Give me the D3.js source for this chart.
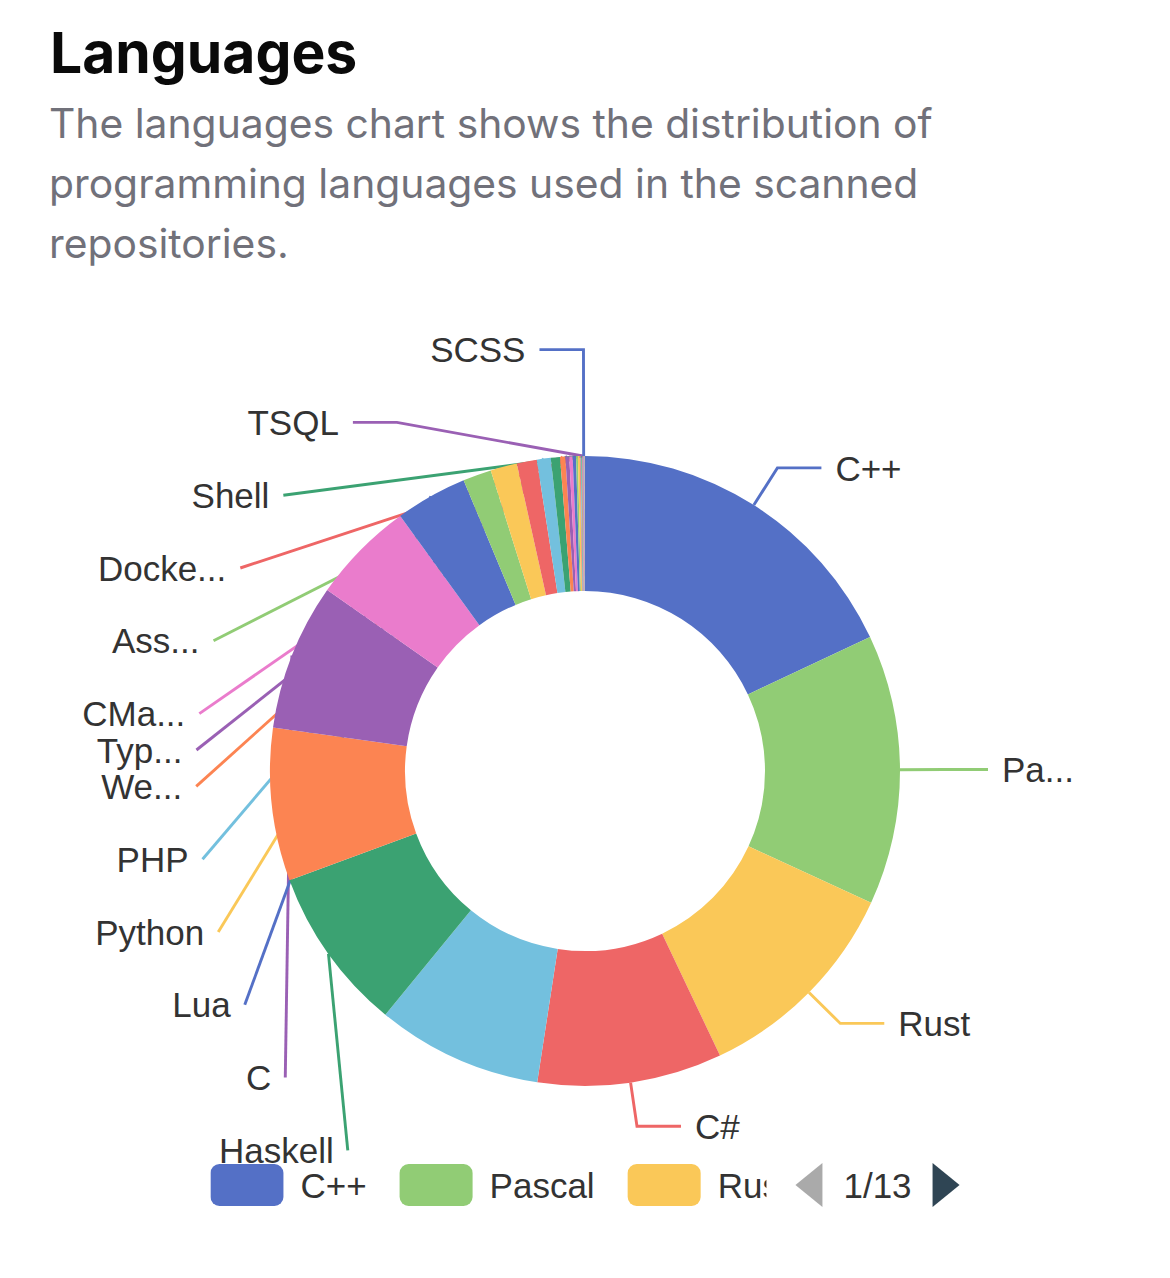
<!DOCTYPE html>
<html>
<head>
<meta charset="utf-8">
<script src="https://cdn.jsdelivr.net/npm/d3@7"></script>
<style>
  html, body { margin: 0; padding: 0; background: #ffffff; }
  svg { display: block; }
</style>
</head>
<body>
<svg id="chart" width="1170" height="1278"></svg>
<script>
// ---------------- DATA ----------------
const titleText = "Languages";
const subtitleLines = [
  "The languages chart shows the distribution of",
  "programming languages used in the scanned",
  "repositories."
];
const names = [
  "C++", "Pascal", "Rust", "C#", "Go", "Haskell", "JavaScript", "C", "Java", "Lua",
  "Ruby", "Python", "Kotlin", "PHP", "HTML", "WebAssembly", "TypeScript", "CMake", "CSS", "Assembly",
  "Makefile", "Dockerfile", "Perl", "Shell", "Batchfile", "TSQL", "Vue", "SCSS", "PowerShell", "Objective-C",
  "Scala", "Swift", "Dart", "Elixir", "Erlang", "Clojure", "F#", "Julia"
];
// share of code, in percent
const values = [
  18.00, 13.86, 11.08, 9.47, 8.50, 8.44, 7.83, 7.54, 5.28, 3.68,
  1.46, 1.36, 1.03, 0.71, 0.47, 0.27, 0.20, 0.17, 0.17, 0.094,
  0.097, 0.042, 0.036, 0.033, 0.028, 0.025, 0.022, 0.019, 0.011, 0.0097,
  0.0083, 0.0069, 0.0056, 0.005, 0.0042, 0.0033, 0.0028, 0.0014
];
// label shown next to each slice: text, "" = hidden by overlap (still laid out), null = no label
const labelTexts = [
  "C++", "Pa...", "Rust", "C#", "", "Haskell", "", "C", "", "Lua",
  "", "Python", "", "PHP", "", "We...", "Typ...", "CMa...", "", "Ass...",
  "", "Docke...", "", "Shell", "", "TSQL", "", "SCSS", null, null,
  null, null, null, null, null, null, null, null
];
const palette = ["#5470c6", "#91cc75", "#fac858", "#ee6666", "#73c0de", "#3ba272", "#fc8452", "#9a60b4", "#ea7ccc"];
const legendPageText = "1/13";

// ---------------- LAYOUT ----------------
const svg = d3.select("#chart");
const uiFont = "Inter, 'Noto Sans', sans-serif";
const chartFont = "'Liberation Sans', Arial, Helvetica, sans-serif";

svg.append("text")
  .attr("x", 50).attr("y", 73)
  .attr("font-family", uiFont).attr("font-weight", 700).attr("font-size", 57)
  .attr("fill", "#0a0a0a")
  .text(titleText);

svg.selectAll("text.sub").data(subtitleLines).enter().append("text")
  .attr("class", "sub")
  .attr("x", 49).attr("y", (d, i) => 138 + i * 60)
  .attr("font-family", uiFont).attr("font-size", 40.8)
  .attr("fill", "#71717a")
  .text(d => d);

const cx = 585, cy = 771, R = 315, R0 = 180;
const len1 = 44, len2 = 44, labelDist = 14, labelH = 36.4, fontSize = 35;
const viewTop = 300, viewBottom = 1205;

const color = d3.scaleOrdinal().domain(d3.range(names.length)).range(palette);
const arcs = d3.pie().sort(null).value(d => d)(values);
const arcGen = d3.arc().innerRadius(R0).outerRadius(R);

// ---- label layout (outer labels with guide lines) ----
const labels = [];
arcs.forEach((a, i) => {
  const text = labelTexts[i];
  if (text === null) return;
  const mid = (a.startAngle + a.endAngle) / 2;
  const sx = Math.sin(mid), sy = -Math.cos(mid);
  const dir = sx < 0 ? -1 : 1;
  const p0 = [cx + R * sx, cy + R * sy];
  const p1 = [cx + (R + len1) * sx, cy + (R + len1) * sy];
  const p2 = [p1[0] + dir * len2, p1[1]];
  labels.push({ i, text, dir, normal: [sx, sy], pts: [p0, p1, p2], x: p2[0] + dir * labelDist, y: p1[1] });
});

function shiftY(list) {
  if (list.length < 2) return false;
  list.sort((a, b) => a.y - b.y);
  let moved = false, last = -Infinity;
  list.forEach(d => {
    const top = d.y - labelH / 2;
    if (top < last) { d.y += last - top; moved = true; }
    last = d.y + labelH / 2;
  });
  const first = list[0], lastItem = list[list.length - 1];
  const over = lastItem.y + labelH / 2 - viewBottom;
  if (over > 0) {
    const room = Math.max(first.y - labelH / 2 - viewTop, 0);
    const s = Math.min(over, room);
    list.forEach(d => d.y -= s);
    moved = true;
  }
  return moved;
}

function recalcX(list) {
  const rA = R + len1;
  [list.filter(d => d.y <= cy), list.filter(d => d.y > cy)].forEach(semi => {
    if (!semi.length) return;
    let maxY = -1, rB = rA;
    semi.forEach(d => {
      const dy = Math.abs(d.y - cy);
      if (dy >= maxY) {
        const dx = d.x - cx - len2 * d.dir;
        rB = Math.abs(dx) < rA ? Math.sqrt(dy * dy / (1 - dx * dx / rA / rA)) : rA;
        maxY = dy;
      }
    });
    semi.forEach(d => {
      const dy = Math.abs(d.y - cy);
      const dxE = Math.sqrt(Math.max(0, 1 - dy * dy / (rB * rB))) * rA;
      d.x = cx + (dxE + len2) * d.dir;
    });
  });
}

[labels.filter(d => d.dir < 0), labels.filter(d => d.dir > 0)].forEach(side => {
  if (shiftY(side)) recalcX(side);
});

const sub = (a, b) => [a[0] - b[0], a[1] - b[1]];
const dot = (a, b) => a[0] * b[0] + a[1] * b[1];
const norm = a => { const l = Math.hypot(a[0], a[1]); return [a[0] / l, a[1] / l]; };
function project(p1, p2, p) {
  const d = sub(p2, p1), L2 = dot(d, d);
  const t = dot(sub(p, p1), d) / L2;
  const q = [p1[0] + t * d[0], p1[1] + t * d[1]];
  return [q, Math.hypot(p[0] - q[0], p[1] - q[1])];
}
function paramT(p1, p2, q) {
  return p2[0] !== p1[0] ? (q[0] - p1[0]) / (p2[0] - p1[0]) : (q[1] - p1[1]) / (p2[1] - p1[1]);
}
function limitTurnAngle(pts, minTurn) {
  const [p0, p1, p2] = pts;
  const v1 = sub(p0, p1), v2 = sub(p2, p1);
  if (Math.hypot(...v1) < 1e-3 || Math.hypot(...v2) < 1e-3) return;
  const d1 = norm(v1), d2 = norm(v2);
  if (Math.cos(minTurn) < dot(d1, d2)) {
    const [q, dist] = project(p1, p2, p0);
    let np = [q[0] + d2[0] * dist / Math.tan(Math.PI - minTurn), q[1] + d2[1] * dist / Math.tan(Math.PI - minTurn)];
    const t = paramT(p1, p2, np);
    if (isNaN(t)) return;
    if (t < 0) np = p1.slice(); else if (t > 1) np = p2.slice();
    pts[1] = np;
  }
}
function limitSurfaceAngle(pts, normal, maxSurface) {
  const [p0, p1, p2] = pts;
  const v1 = sub(p1, p0), v2 = sub(p2, p1);
  if (Math.hypot(...v1) < 1e-3 || Math.hypot(...v2) < 1e-3) return;
  const d1 = norm(v1), d2 = norm(v2);
  if (dot(d1, normal) < Math.cos(maxSurface)) {
    const [q, dist] = project(p1, p2, p0);
    const angle2 = Math.acos(Math.max(-1, Math.min(1, dot(d2, normal))));
    const newAngle = Math.PI / 2 + angle2 - maxSurface;
    let np;
    if (newAngle >= Math.PI / 2) np = p2.slice();
    else {
      const k = dist / Math.tan(Math.PI / 2 - newAngle);
      np = [q[0] + d2[0] * k, q[1] + d2[1] * k];
      const t = paramT(p1, p2, np);
      if (isNaN(t)) return;
      if (t < 0) np = p1.slice(); else if (t > 1) np = p2.slice();
    }
    pts[1] = np;
  }
}

labels.forEach(d => {
  const p2 = [d.x - d.dir * labelDist, d.y];
  const p1 = [p2[0] - d.dir * len2, d.y];
  d.pts = [d.pts[0], p1, p2];
  limitTurnAngle(d.pts, Math.PI / 2);
  limitSurfaceAngle(d.pts, d.normal, Math.PI / 2);
});

const shown = labels.filter(d => d.text !== "");

// guide lines sit beneath the ring
svg.append("g").selectAll("polyline").data(shown).enter().append("polyline")
  .attr("points", d => d.pts.map(p => p.join(",")).join(" "))
  .attr("fill", "none")
  .attr("stroke", d => color(d.i))
  .attr("stroke-width", 2.9);

svg.append("g").attr("transform", `translate(${cx},${cy})`)
  .selectAll("path").data(arcs).enter().append("path")
  .attr("d", arcGen)
  .attr("fill", (d, i) => color(i));

svg.append("g").selectAll("text").data(shown).enter().append("text")
  .attr("x", d => d.x).attr("y", d => d.y)
  .attr("dy", "0.36em")
  .attr("text-anchor", d => d.dir < 0 ? "end" : "start")
  .attr("font-family", chartFont).attr("font-size", fontSize)
  .attr("fill", "#333")
  .text(d => d.text);

// ---- scrollable legend (page 1) ----
const legendY = 1185, swW = 73, swH = 42, swGap = 17, itemGap = 33, viewportW = 556;
const measurer = svg.append("text").attr("font-family", chartFont).attr("font-size", fontSize).attr("visibility", "hidden");
const tw = s => { measurer.text(s); return measurer.node().getComputedTextLength(); };
const arrowW = 27, arrowH = 44, pagerGap1 = 29, pagerGap2 = 21;
const pagerW = pagerGap1 + arrowW + pagerGap2 + tw(legendPageText) + pagerGap2 + arrowW;
const legendX0 = cx - (viewportW + pagerW) / 2;

svg.append("defs").append("clipPath").attr("id", "legendClip")
  .append("rect").attr("x", legendX0).attr("y", legendY - 40).attr("width", viewportW).attr("height", 80);

const legendItems = [];
let lx = legendX0;
names.forEach((n, i) => { legendItems.push({ n, i, x: lx }); lx += swW + swGap + tw(n) + itemGap; });

const lg = svg.append("g").attr("clip-path", "url(#legendClip)");
const li = lg.selectAll("g").data(legendItems.filter(d => d.x < legendX0 + viewportW)).enter().append("g");
li.append("rect")
  .attr("x", d => d.x).attr("y", legendY - swH / 2)
  .attr("width", swW).attr("height", swH).attr("rx", 9)
  .attr("fill", d => color(d.i));
li.append("text")
  .attr("x", d => d.x + swW + swGap).attr("y", legendY).attr("dy", "0.36em")
  .attr("font-family", chartFont).attr("font-size", fontSize).attr("fill", "#333")
  .text(d => d.n);

const px0 = legendX0 + viewportW + pagerGap1;
svg.append("path")
  .attr("d", `M${px0},${legendY} L${px0 + arrowW},${legendY - arrowH / 2} L${px0 + arrowW},${legendY + arrowH / 2} Z`)
  .attr("fill", "#aaaaaa");
svg.append("text")
  .attr("x", px0 + arrowW + pagerGap2).attr("y", legendY).attr("dy", "0.36em")
  .attr("font-family", chartFont).attr("font-size", fontSize).attr("fill", "#333")
  .text(legendPageText);
const px1 = px0 + arrowW + pagerGap2 + tw(legendPageText) + pagerGap2;
svg.append("path")
  .attr("d", `M${px1 + arrowW},${legendY} L${px1},${legendY - arrowH / 2} L${px1},${legendY + arrowH / 2} Z`)
  .attr("fill", "#2f4554");
</script>
</body>
</html>
